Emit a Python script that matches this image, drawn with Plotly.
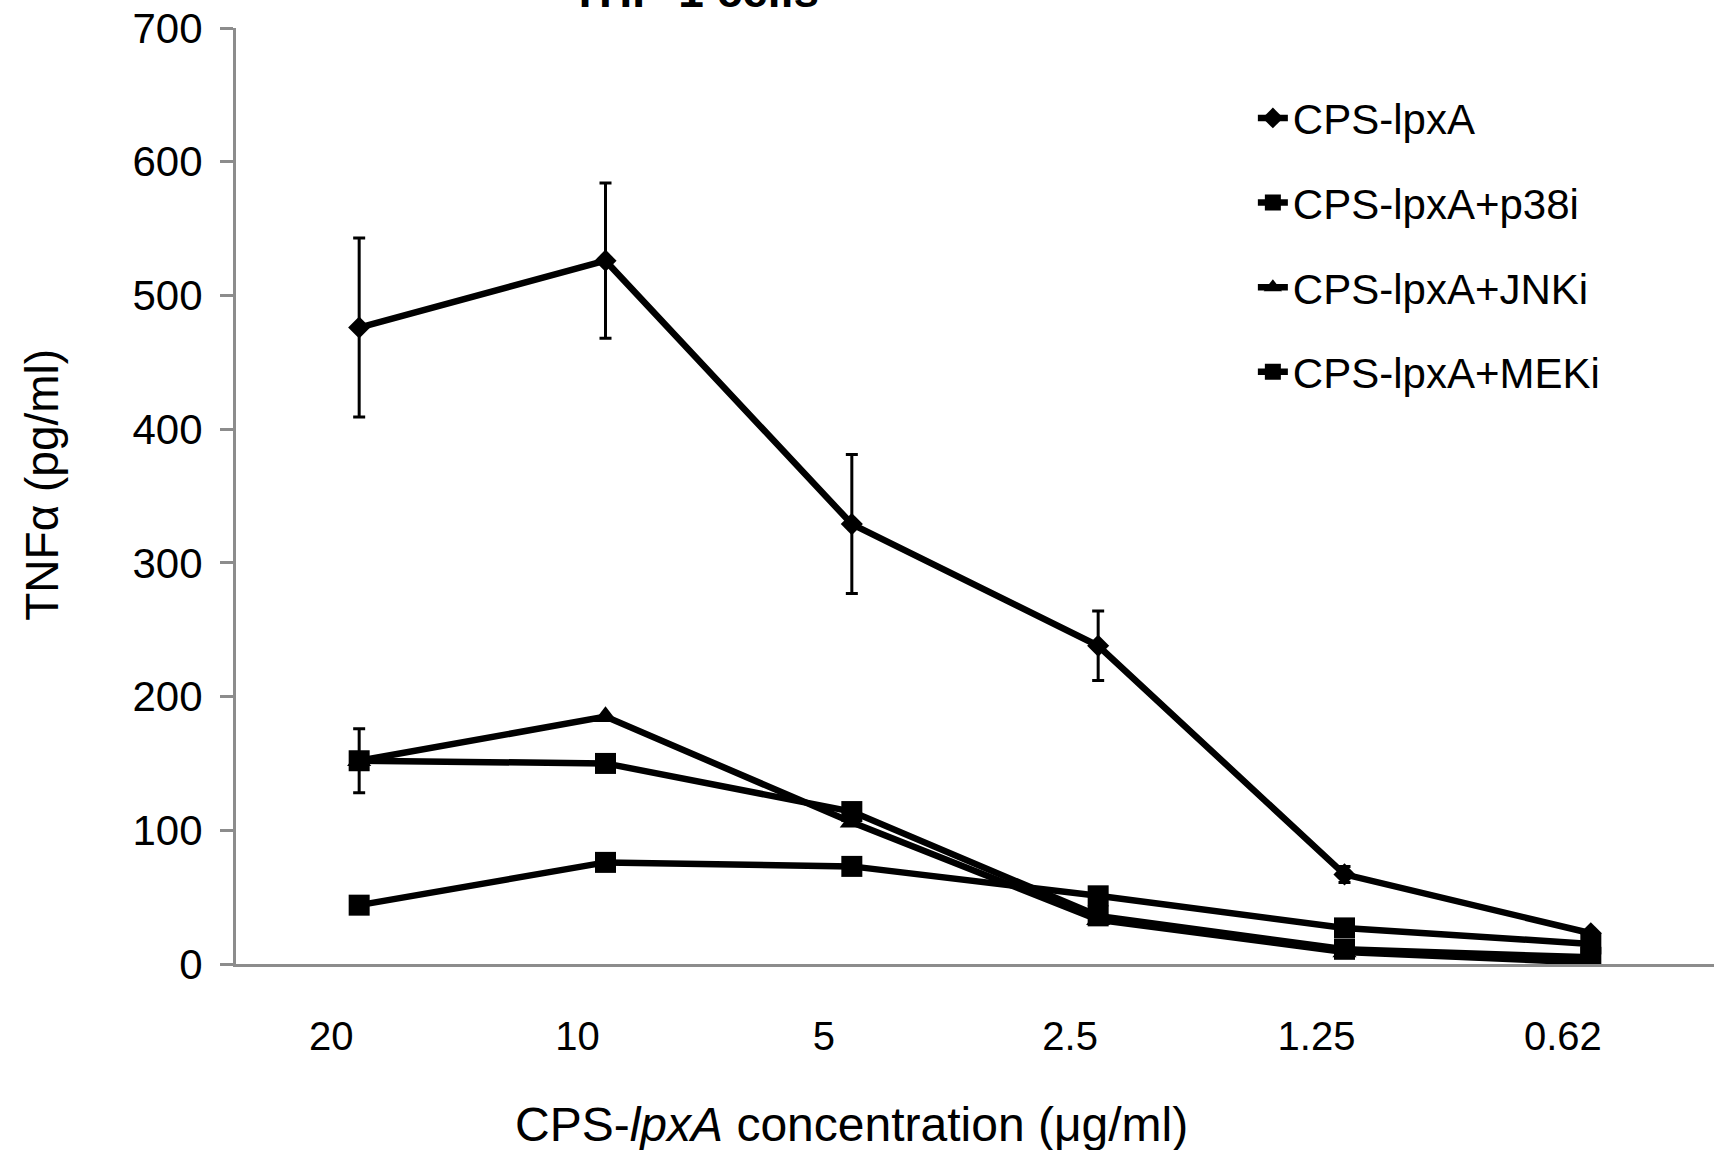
import plotly.graph_objects as go

categories = ["20", "10", "5", "2.5", "1.25", "0.62"]
series_names = ["CPS-lpxA", "CPS-lpxA+p38i", "CPS-lpxA+JNKi", "CPS-lpxA+MEKi"]

lpxa = [476, 526, 329, 238, 67, 23]
lpxa_err = [67, 58, 52, 26, 6, 0]
p38i = [152, 150, 114, 36, 11, 5]
p38i_err = [24, 6, 0, 0, 0, 0]
jnki = [152, 185, 106, 33, 9, 1]
jnki_err = [0, 0, 0, 0, 0, 0]
meki = [44, 76, 73, 51, 27, 15]
meki_err = [0, 0, 0, 0, 0, 0]

values = [lpxa, p38i, jnki, meki]
errors = [lpxa_err, p38i_err, jnki_err, meki_err]
symbols = ["diamond", "square", "triangle-up", "square"]
sizes = [17, 21, 21, 21]

FONT = "Liberation Sans, Arial, sans-serif"
xs = list(range(len(categories)))

fig = go.Figure()
for i, name in enumerate(series_names):
    fig.add_trace(go.Scatter(
        x=xs, y=values[i], name=name, mode="lines+markers",
        legendgroup=name,
        line=dict(color="black", width=6.5),
        marker=dict(symbol=symbols[i], size=sizes[i], color="black",
                    line=dict(color="black", width=0)),
        error_y=dict(type="data", array=errors[i], visible=True,
                     color="black", thickness=3, width=6),
    ))

fig.update_layout(
    width=1719, height=1150,
    margin=dict(l=236, r=5, t=28, b=186),
    paper_bgcolor="white", plot_bgcolor="white",
    font=dict(family=FONT, color="black", size=40),
    showlegend=True,
    legend=dict(x=0.688, y=0.940, xanchor="left", yanchor="top",
                font=dict(size=42, family=FONT), tracegroupgap=27,
                traceorder="grouped", bgcolor="rgba(0,0,0,0)",
                itemwidth=30),
)
fig.update_xaxes(
    range=[-0.5, 5.5], tickmode="array", tickvals=xs, ticktext=categories,
    showline=True, linecolor="#8c8c8c", linewidth=3, ticks="",
    showgrid=False, zeroline=False, ticklabelstandoff=35, ticklabelshift=-28,
    tickfont=dict(size=40),
)
fig.update_yaxes(
    range=[0, 700], dtick=100, showline=True, linecolor="#8c8c8c", linewidth=3,
    ticks="outside", ticklen=13, tickwidth=3, tickcolor="#8c8c8c",
    showgrid=False, zeroline=False, ticklabelstandoff=9,
    tickfont=dict(size=42),
)
fig.add_annotation(
    text="TNFα (pg/ml)", xref="paper", yref="paper", textangle=-90,
    x=-(236 - 42) / 1478, y=0.512, xanchor="center", yanchor="middle",
    showarrow=False, font=dict(size=46, family=FONT),
)
fig.add_annotation(
    text="CPS-<i>lpxA</i> concentration (μg/ml)", xref="paper", yref="paper",
    x=(851 - 236) / 1478, y=-0.171, xanchor="center", yanchor="middle",
    showarrow=False, font=dict(size=48, family=FONT),
)
fig.add_annotation(
    text="<b>THP-1 cells</b>", xref="paper", yref="paper",
    x=0.3106, y=1.040, xanchor="center", yanchor="middle",
    showarrow=False, font=dict(size=46, family=FONT),
)
fig.write_html("out.html")
